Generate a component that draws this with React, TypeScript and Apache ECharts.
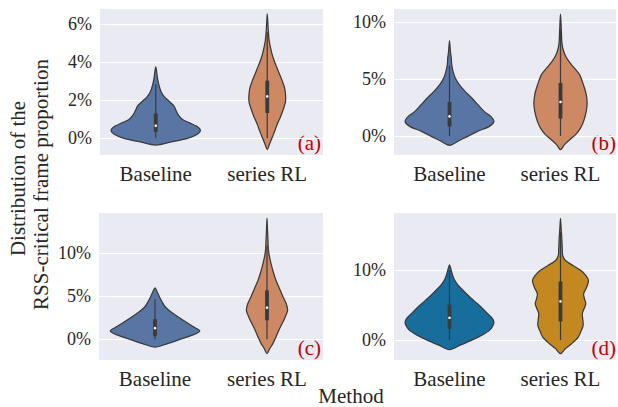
import React, { useEffect, useRef } from "react";
import * as echarts from "echarts";

const categories = ["Baseline", "series RL"];
const panelLabels = ["(a)", "(b)", "(c)", "(d)"];

// (a) violin profiles: y value (%) and relative density (1 = widest violin)
const aBaseY = [-0.37, -0.19, -0.02, 0.2, 0.42, 0.63, 0.81, 0.98, 1.21, 1.47, 1.68, 1.91, 2.18, 2.44, 2.79, 3.14, 3.49, 3.75];
const aBaseD = [0, 0.37, 0.71, 0.93, 1.0, 0.91, 0.75, 0.6, 0.51, 0.45, 0.41, 0.31, 0.19, 0.12, 0.07, 0.04, 0.02, 0];
const aRLY = [-0.61, -0.35, -0.09, 0.26, 0.7, 1.14, 1.58, 1.93, 2.28, 2.63, 2.98, 3.33, 3.68, 4.04, 4.39, 4.74, 5.09, 5.44, 5.79, 6.14, 6.53];
const aRLD = [0, 0.045, 0.09, 0.15, 0.22, 0.3, 0.37, 0.41, 0.41, 0.39, 0.34, 0.28, 0.22, 0.16, 0.11, 0.075, 0.045, 0.03, 0.019, 0.011, 0];

// (b)
const bBaseY = [-0.82, -0.41, -0.03, 0.41, 0.85, 1.29, 1.73, 2.17, 2.76, 3.35, 3.93, 4.52, 5.11, 5.69, 6.28, 6.87, 7.46, 8.39];
const bBaseD = [0, 0.21, 0.41, 0.63, 0.9, 1.0, 0.93, 0.78, 0.64, 0.5, 0.35, 0.22, 0.13, 0.08, 0.05, 0.04, 0.02, 0];
const bRLY = [-1.2, -0.76, -0.32, 0.12, 0.7, 1.29, 2.17, 2.9, 3.64, 4.23, 4.81, 5.4, 5.99, 6.57, 7.16, 7.75, 8.33, 9.21, 10.09, 10.74];
const bRLD = [0, 0.09, 0.21, 0.34, 0.45, 0.52, 0.58, 0.6, 0.58, 0.54, 0.49, 0.43, 0.31, 0.19, 0.1, 0.05, 0.03, 0.02, 0.01, 0];

// (c)
const cBaseY = [-0.9, -0.5, -0.04, 0.46, 0.96, 1.43, 2.01, 2.59, 3.17, 3.76, 4.34, 4.92, 5.5, 5.97];
const cBaseD = [0, 0.28, 0.54, 0.82, 1.0, 0.87, 0.69, 0.52, 0.36, 0.23, 0.16, 0.1, 0.05, 0];
const cRLY = [-1.67, -1.09, -0.5, 0.27, 1.24, 2.4, 3.37, 4.14, 4.92, 5.89, 6.86, 7.83, 8.79, 9.76, 10.53, 11.7, 12.86, 14.1];
const cRLD = [0, 0.06, 0.13, 0.2, 0.28, 0.39, 0.46, 0.43, 0.36, 0.28, 0.2, 0.14, 0.09, 0.05, 0.03, 0.02, 0.01, 0];

// (d)
const dBaseY = [-1.39, -0.77, -0.05, 0.67, 1.39, 2.1, 2.58, 3.15, 3.78, 4.5, 5.21, 5.93, 6.65, 7.37, 8.08, 8.8, 9.52, 10.24, 10.81];
const dBaseD = [0, 0.23, 0.49, 0.72, 0.9, 0.98, 1.0, 0.96, 0.86, 0.75, 0.63, 0.5, 0.38, 0.27, 0.17, 0.1, 0.06, 0.03, 0];
const dRLY = [-1.96, -1.24, -0.53, 0.43, 1.39, 2.1, 3.06, 3.78, 4.5, 5.21, 5.93, 6.65, 7.6, 8.56, 9.28, 9.99, 10.71, 11.43, 12.15, 13.11, 14.54, 15.97, 17.48];
const dRLD = [0, 0.11, 0.25, 0.4, 0.47, 0.51, 0.5, 0.49, 0.53, 0.57, 0.54, 0.52, 0.59, 0.63, 0.57, 0.46, 0.28, 0.11, 0.05, 0.04, 0.03, 0.015, 0];

// inner box stats: [whisker low, Q1, median, Q3, whisker high] (%)
const aBaseBox = [0, 0.33, 0.65, 1.3, 2.84];
const aRLBox = [0, 1.32, 2.19, 3.02, 5.57];
const bBaseBox = [0, 0.85, 1.73, 2.99, 6.2];
const bRLBox = [0, 1.53, 3.0, 4.67, 9.38];
const cBaseBox = [0, 0.38, 1.3, 2.34, 4.65];
const cRLBox = [0, 2.21, 3.68, 5.69, 10.9];
const dBaseBox = [0, 1.63, 3.2, 5.11, 10.0];
const dRLBox = [0, 2.68, 5.55, 8.42, 15.5];

// y-axis ranges (%)
const yMin = [-0.89, -1.67, -2.4, -2.87];
const yMax = [6.84, 11.27, 14.8, 18.4];
const ySplit = [4, 3, 3, 2];

const violins = [
  [{ y: aBaseY, d: aBaseD, box: aBaseBox }, { y: aRLY, d: aRLD, box: aRLBox }],
  [{ y: bBaseY, d: bBaseD, box: bBaseBox }, { y: bRLY, d: bRLD, box: bRLBox }],
  [{ y: cBaseY, d: cBaseD, box: cBaseBox }, { y: cRLY, d: cRLD, box: cRLBox }],
  [{ y: dBaseY, d: dBaseD, box: dBaseBox }, { y: dRLY, d: dRLD, box: dRLBox }],
];

const palettes = [
  ["#5875A3", "#CC8963"],
  ["#5875A3", "#CC8963"],
  ["#5875A3", "#CC8963"],
  ["#176D9C", "#C38820"],
];

const grids = [
  { left: 100, top: 8, width: 223, height: 147 },
  { left: 394, top: 8, width: 222, height: 147 },
  { left: 99, top: 212, width: 224, height: 148 },
  { left: 394, top: 212, width: 222, height: 148 },
];

const SERIF = '"Liberation Serif", "Times New Roman", serif';
const LINE = "#3a3a3a";
const TEXT = "#262626";

export default function App() {
  const ref = useRef<HTMLDivElement>(null);
  useEffect(() => {
    if (!ref.current) return;
    const chart = echarts.init(ref.current, undefined, { renderer: "svg" });

    const series = grids.map((_, gi) => ({
      type: "custom",
      xAxisIndex: gi,
      yAxisIndex: gi,
      data: [
        [0, 0],
        [1, 0],
      ],
      encode: { x: 0, y: 1 },
      renderItem: (params: any, api: any) => {
        const cat = api.value(0);
        const v = violins[gi][cat];
        const band = api.size([1, 0])[0];
        const half = band * 0.4;
        const n = v.y.length;
        const pts: number[][] = [];
        for (let i = 0; i < n; i++) {
          const p = api.coord([cat, v.y[i]]);
          pts.push([p[0] + v.d[i] * half, p[1]]);
        }
        for (let i = n - 2; i >= 1; i--) {
          const p = api.coord([cat, v.y[i]]);
          pts.push([p[0] - v.d[i] * half, p[1]]);
        }
        const lo = api.coord([cat, v.box[0]]);
        const q1 = api.coord([cat, v.box[1]]);
        const med = api.coord([cat, v.box[2]]);
        const q3 = api.coord([cat, v.box[3]]);
        const hi = api.coord([cat, v.box[4]]);
        return {
          type: "group",
          children: [
            {
              type: "polygon",
              shape: { points: pts, smooth: 0.3 },
              style: { fill: palettes[gi][cat], stroke: LINE, lineWidth: 1.25 },
            },
            {
              type: "line",
              shape: { x1: lo[0], y1: lo[1], x2: hi[0], y2: hi[1] },
              style: { stroke: LINE, lineWidth: 1.2 },
            },
            {
              type: "line",
              shape: { x1: q1[0], y1: q1[1], x2: q3[0], y2: q3[1] },
              style: { stroke: LINE, lineWidth: 3.8 },
            },
            {
              type: "circle",
              shape: { cx: med[0], cy: med[1], r: 1.3 },
              style: { fill: "#ffffff" },
            },
          ],
        };
      },
    }));

    const labelPos = [
      [321, 153],
      [616, 153],
      [321, 358],
      [616, 358],
    ];

    const option: any = {
      animation: false,
      backgroundColor: "#ffffff",
      grid: grids.map((g) => ({
        ...g,
        show: true,
        backgroundColor: "#EAEAF2",
        borderWidth: 0,
        containLabel: false,
      })),
      xAxis: grids.map((_, gi) => ({
        type: "category",
        gridIndex: gi,
        data: categories,
        axisLine: { show: false },
        axisTick: { show: false },
        splitLine: { show: false },
        axisLabel: { fontSize: 21, fontFamily: SERIF, color: TEXT, margin: 8 },
      })),
      yAxis: grids.map((_, gi) => ({
        type: "value",
        gridIndex: gi,
        min: yMin[gi],
        max: yMax[gi],
        splitNumber: ySplit[gi],
        axisLine: { show: false },
        axisTick: { show: false },
        splitLine: { show: true, lineStyle: { color: "#ffffff", width: 1.2 } },
        axisLabel: {
          fontSize: 18,
          fontFamily: SERIF,
          color: TEXT,
          margin: 8,
          formatter: (val: number) =>
            Math.abs(val - Math.round(val)) < 1e-6 ? `${Math.round(val)}%` : "",
        },
      })),
      series,
      graphic: [
        ...panelLabels.map((t, i) => ({
          type: "text",
          x: labelPos[i][0],
          y: labelPos[i][1],
          style: {
            text: t,
            fill: "#C00000",
            font: `21px ${SERIF}`,
            textAlign: "right",
            align: "right",
            textVerticalAlign: "bottom",
            verticalAlign: "bottom",
          },
        })),
        {
          type: "text",
          x: 18,
          y: 178.5,
          rotation: Math.PI / 2,
          style: {
            text: "Distribution of the",
            fill: TEXT,
            font: `21px ${SERIF}`,
            textAlign: "center",
            align: "center",
            textVerticalAlign: "middle",
            verticalAlign: "middle",
          },
        },
        {
          type: "text",
          x: 40.5,
          y: 184.5,
          rotation: Math.PI / 2,
          style: {
            text: "RSS-critical frame proportion",
            fill: TEXT,
            font: `21px ${SERIF}`,
            textAlign: "center",
            align: "center",
            textVerticalAlign: "middle",
            verticalAlign: "middle",
          },
        },
        {
          type: "text",
          x: 351,
          y: 396,
          style: {
            text: "Method",
            fill: TEXT,
            font: `21px ${SERIF}`,
            textAlign: "center",
            align: "center",
            textVerticalAlign: "middle",
            verticalAlign: "middle",
          },
        },
      ],
    };

    chart.setOption(option);
    return () => chart.dispose();
  }, []);

  return (
    <div
      ref={ref}
      style={{ position: "fixed", left: 0, top: 0, width: 618, height: 407 }}
    />
  );
}
